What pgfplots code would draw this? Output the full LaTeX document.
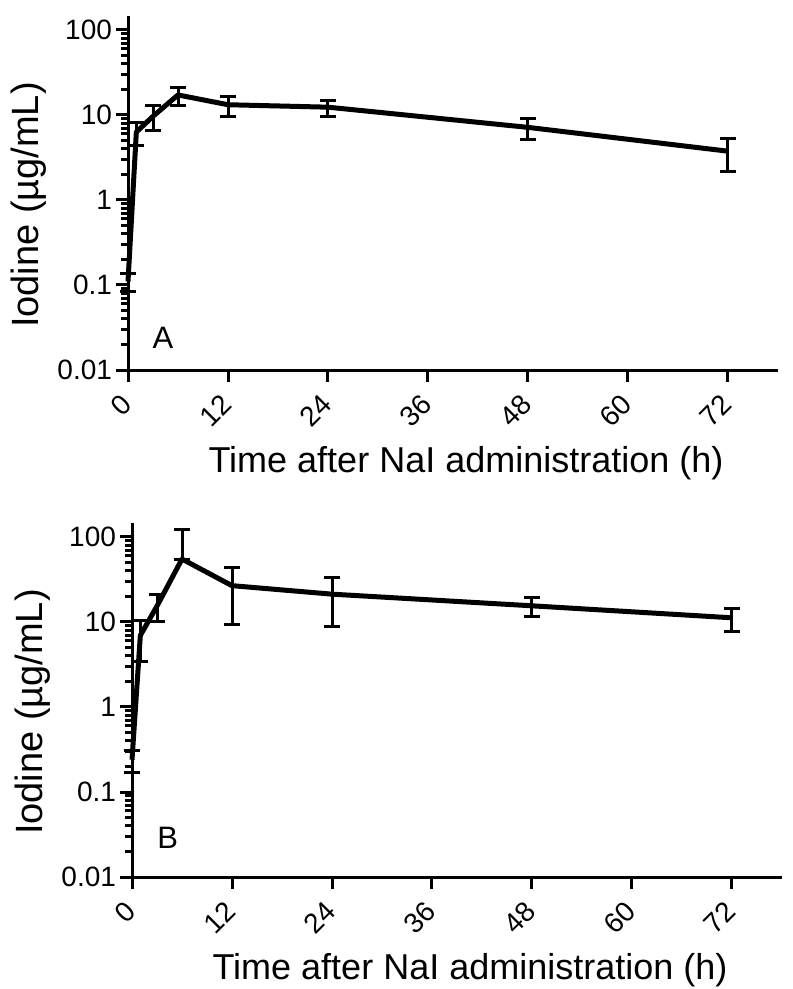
\documentclass[border=0pt]{standalone}
\usepackage{pgfplots}
\pgfplotsset{compat=1.18}
\usepackage{fontspec}
\setmainfont{Liberation Sans}

\pgfplotsset{
  every axis/.append style={
    scale only axis, width=325pt, height=177pt,
    xmin=0, xmax=78, ymin=0.01, ymax=146,
    axis x line*=bottom, axis y line*=left,
    axis line style={line width=1.5pt},
    xtick={0,12,24,36,48,60,72},
    tick align=outside,
    major tick length=6pt, minor tick length=3.5pt,
    every tick/.style={black, line width=1.5pt},
    tick label style={font=\fontsize{14}{16}\selectfont},
    xticklabel style={xshift=2pt, yshift=-6.5pt, rotate=45, anchor=east},
    yticklabel style={xshift=1.5pt},
    xlabel style={font=\fontsize{18}{21}\selectfont},
    ylabel style={font=\fontsize{19}{22}\selectfont},
    xlabel={Time after NaI administration (h)},
    ylabel={Iodine (µg/mL)},
    xlabel style={at={(axis description cs:0.52,-0.263)}, anchor=center},
    ylabel style={at={(axis description cs:-0.153,0.466)}, anchor=center},
    clip=false,
  },
}

\begin{document}
\begin{tikzpicture}
\useasboundingbox (0,0) rectangle (396pt,-494.5pt);

% panel A
\begin{axis}[ymode=log, ytick={0.01,0.1,1,10,100},
  yticklabels={0.01,0.1,1,10,100},
  /pgf/number format/assume math mode=true,
  at={(64pt,-185pt)}, anchor=south west]
\addplot[black, line width=2.5pt, line join=round, mark=none,
  error bars/.cd, y dir=both, y explicit,
  error bar style={line width=1.5pt, black},
  error mark options={line width=1.5pt, mark size=4pt, black, rotate=90}]
  coordinates {
  (0,0.11)  +- (0,0.027)
  (1,6.3)   +- (0,1.9)
  (3,9.65)  +- (0,3.15)
  (6,17.2)  +- (0,4.1)
  (12,13.2) +- (0,3.5)
  (24,12.35) +- (0,2.65)
  (48,7.15) +- (0,2.05)
  (72,3.75) +- (0,1.6)
};
\node[font=\fontsize{15.5}{18}\selectfont] at (axis cs:4.2,0.024) {A};
\end{axis}

% panel B
\begin{axis}[ymode=log, ytick={0.01,0.1,1,10,100},
  yticklabels={0.01,0.1,1,10,100},
  /pgf/number format/assume math mode=true,
  at={(66pt,-438.5pt)}, anchor=south west]
\addplot[black, line width=2.5pt, line join=round, mark=none,
  error bars/.cd, y dir=both, y explicit,
  error bar style={line width=1.5pt, black},
  error mark options={line width=1.5pt, mark size=4pt, black, rotate=90}]
  coordinates {
  (0,0.24)  +- (0,0.07)
  (1,6.95)  +- (0,3.55)
  (3,15.4)  +- (0,5.4)
  (6,55)    += (0,66) -= (0,0)
  (12,26.75) +- (0,17.5)
  (24,21.25) +- (0,12.5)
  (48,15.5) +- (0,4)
  (72,11.2) +- (0,3.4)
};
\node[font=\fontsize{15.5}{18}\selectfont] at (axis cs:4.3,0.029) {B};
\end{axis}
\end{tikzpicture}
\end{document}
